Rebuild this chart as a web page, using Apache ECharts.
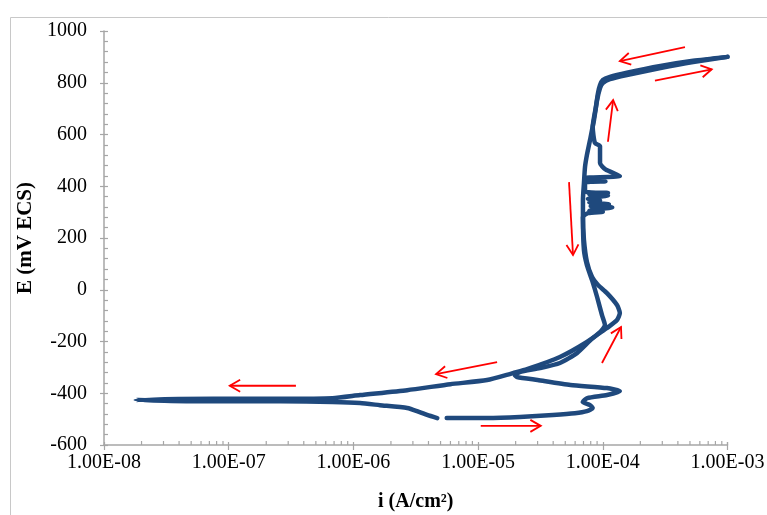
<!DOCTYPE html>
<html>
<head>
<meta charset="utf-8">
<script src="https://cdn.jsdelivr.net/npm/echarts@6/dist/echarts.min.js"></script>
<style>
  html, body { margin: 0; padding: 0; background: #fff; }
  #chart { width: 767px; height: 515px; }
</style>
</head>
<body>
<div id="chart"></div>
<script>
// Axis ticks
const xTicks = [1e-8, 1e-7, 1e-6, 1e-5, 1e-4, 1e-3];
const xTickLabels = ['1.00E-08', '1.00E-07', '1.00E-06', '1.00E-05', '1.00E-04', '1.00E-03'];
const minorSteps = [2, 3, 4, 5, 6, 7, 8, 9];
const yMin = -600, yMax = 1000, yStep = 200;

// Forward scan: current density (A/cm²) and potential (mV ECS)
const forwardI = [5.6e-6, 1.18e-5, 2.16e-5, 3.98e-5, 5.98e-5, 7.46e-5, 8.3e-5, 7.9e-5, 6.9e-5, 7.5e-5,
  1.08e-4, 1.37e-4, 1.08e-4, 5.5e-5, 3.0e-5, 2.05e-5, 1.97e-5, 2.16e-5, 3.13e-5, 4.53e-5,
  6.2e-5, 8.3e-5, 1.08e-4, 1.30e-4, 1.37e-4, 1.30e-4, 1.08e-4, 9.15e-5, 8.2e-5,
  7.46e-5, 7.06e-5, 6.93e-5, 7.6e-5, 1.0e-4, 7.8e-5, 1.19e-4, 8.0e-5, 1.12e-4, 7.8e-5,
  9.5e-5, 7.6e-5, 1.1e-4, 7.8e-5, 1.1e-4, 7.2e-5, 7.2e-5, 1.05e-4, 7.2e-5, 7.2e-5,
  1.37e-4, 1.05e-4, 9.5e-5, 9.5e-5, 8.65e-5, 8.3e-5, 8.8e-5, 9.15e-5, 9.5e-5, 1.0e-4,
  1.14e-4, 1.56e-4, 2.9e-4, 5.3e-4, 1.0e-3];
const forwardE = [-496, -496, -492, -484, -477, -469, -457, -446, -434, -419,
  -407, -392, -380, -368, -349, -337, -330, -318, -303, -283,
  -245, -187, -148, -117, -90, -59, -13, 18, 49,
  107, 192, 281, 296, 301, 306, 318, 323, 330, 337,
  345, 352, 364, 369, 374, 380, 414, 419, 424, 432,
  440, 465, 490, 555, 567, 629, 706, 760, 791, 811,
  823, 839, 865, 885, 900];

// Reverse scan
const reverseI = [1.0e-3, 5.3e-4, 2.9e-4, 1.56e-4, 1.14e-4, 1.0e-4, 9.5e-5, 9.0e-5, 8.5e-5, 7.9e-5,
  7.46e-5, 7.2e-5, 7.06e-5, 6.93e-5, 6.93e-5, 7.06e-5, 7.46e-5, 8.2e-5, 9.0e-5, 9.85e-5,
  1.04e-4, 9.5e-5, 7.46e-5, 4.53e-5, 2.47e-5, 1.9e-5, 1.18e-5, 6.0e-6, 2.7e-6, 1.13e-6,
  6.8e-7, 2.6e-7, 7.5e-8, 1.8e-8, 7.5e-8, 2.6e-7, 6.8e-7, 1.13e-6, 1.63e-6, 2.7e-6,
  3.4e-6, 3.9e-6, 4.7e-6];
const reverseE = [900, 880, 857, 830, 814, 799, 780, 733, 656, 579,
  521, 474, 412, 347, 281, 153, 95, 37, -28, -98,
  -136, -164, -202, -260, -307, -322, -349, -365, -388, -407,
  -419, -421, -421, -426, -431, -431, -434, -438, -446, -457,
  -473, -484, -496];

// Scan-direction arrows: [i start, E start, i end, E end]
const arrowFromI = [4.56e-4, 2.62e-4, 1.10e-4, 5.36e-5, 9.85e-5, 1.42e-5, 3.46e-7, 1.05e-5];
const arrowFromE = [938, 808, 572, 416, -283, -280, -371, -526];
const arrowToI   = [1.37e-4, 7.47e-4, 1.21e-4, 5.77e-5, 1.40e-4, 4.6e-6, 1.02e-7, 3.18e-5];
const arrowToE   = [884, 852, 733, 134, -144, -326, -371, -526];

const zip = (a, b) => a.map((v, k) => [v, b[k]]);
const minorX = [];
xTicks.slice(0, -1).forEach(d => minorSteps.forEach(m => minorX.push(d * m)));
const arrows = arrowFromI.map((v, k) => [v, arrowFromE[k], arrowToI[k], arrowToE[k]]);

const serif = 'Liberation Serif';
const axisGrey = '#a6a6a6';
const curveColor = '#1F497D';

function xLabel(v) {
  const k = xTicks.findIndex(t => Math.abs(Math.log10(t) - Math.log10(v)) < 1e-6);
  return k >= 0 ? xTickLabels[k] : '';
}

const chart = echarts.init(document.getElementById('chart'));
chart.setOption({
  animation: false,
  backgroundColor: '#fff',
  grid: { left: 104, right: 39.5, top: 31, bottom: 70, containLabel: false, outerBoundsMode: 'none' },
  graphic: [{
    type: 'polyline',
    shape: { points: [[10.5, 515], [10.5, 17.5], [767, 17.5]] },
    style: { stroke: '#c8c8c8', lineWidth: 1, fill: null },
    silent: true
  }],
  xAxis: [{
    type: 'log', logBase: 10, min: 1e-8, max: 1e-3,
    axisLine: { onZero: false, lineStyle: { color: axisGrey, width: 1.5 } },
    axisTick: { inside: false, length: 5, lineStyle: { color: axisGrey, width: 1.2 } },
    axisLabel: { formatter: xLabel, fontFamily: serif, fontSize: 20, color: '#000', margin: 8 },
    splitLine: { show: false },
    name: 'i (A/cm²)', nameLocation: 'middle', nameGap: 47,
    nameTextStyle: { fontFamily: serif, fontSize: 20, fontWeight: 'bold', color: '#000' }
  }, {
    type: 'log', logBase: 10, min: 1e-8, max: 1e-3, position: 'bottom',
    axisLine: { show: false, onZero: false },
    axisTick: { inside: true, length: 3, lineStyle: { color: axisGrey, width: 1.2 } },
    axisLabel: { show: false },
    splitLine: { show: false }
  }],
  yAxis: [{
    type: 'value', min: yMin, max: yMax, interval: yStep,
    axisLine: { show: true, onZero: false, lineStyle: { color: axisGrey, width: 1.5 } },
    axisTick: { show: true, inside: true, length: 4, lineStyle: { color: axisGrey, width: 1.2 } },
    minorTick: { show: true, splitNumber: 5, length: 4, lineStyle: { color: axisGrey, width: 1.2 } },
    axisLabel: { formatter: v => String(v), fontFamily: serif, fontSize: 20, color: '#000', margin: 17 },
    splitLine: { show: false },
    name: 'E (mV ECS)', nameLocation: 'middle', nameGap: 63, nameRotate: 90,
    nameTextStyle: { fontFamily: serif, fontSize: 21, fontWeight: 'bold', color: '#000' }
  }, {
    type: 'value', min: yMin, max: yMax, interval: yStep, position: 'left',
    axisLine: { show: false, onZero: false },
    axisTick: { show: true, inside: false, length: 4, lineStyle: { color: axisGrey, width: 1.2 } },
    axisLabel: { show: false },
    splitLine: { show: false }
  }],
  series: [{
    name: 'minor ticks',
    type: 'custom',
    silent: true,
    z: 1,
    data: minorX.map(v => [v, yMin]),
    renderItem: (params, api) => {
      const p = api.coord([api.value(0), api.value(1)]);
      return {
        type: 'line',
        shape: { x1: p[0], y1: p[1], x2: p[0], y2: p[1] - 4 },
        style: { stroke: axisGrey, lineWidth: 1.2 }
      };
    }
  }, {
    name: 'forward',
    type: 'line',
    data: zip(forwardI, forwardE),
    showSymbol: false,
    clip: false,
    smooth: 0.2,
    lineStyle: { color: curveColor, width: 4.5, join: 'round', cap: 'round' },
    z: 3
  }, {
    name: 'reverse',
    type: 'line',
    data: zip(reverseI, reverseE),
    showSymbol: false,
    clip: false,
    smooth: 0.2,
    lineStyle: { color: curveColor, width: 4.5, join: 'round', cap: 'round' },
    z: 3
  }, {
    name: 'direction',
    type: 'custom',
    silent: true,
    z: 4,
    encode: { x: [0, 2], y: [1, 3] },
    data: arrows,
    renderItem: (params, api) => {
      const a = api.coord([api.value(0), api.value(1)]);
      const b = api.coord([api.value(2), api.value(3)]);
      const ang = Math.atan2(b[1] - a[1], b[0] - a[0]);
      const L = 12, th = Math.PI / 6;
      const h1 = [b[0] - L * Math.cos(ang - th), b[1] - L * Math.sin(ang - th)];
      const h2 = [b[0] - L * Math.cos(ang + th), b[1] - L * Math.sin(ang + th)];
      const st = { stroke: '#ff0000', lineWidth: 1.8, fill: null };
      return {
        type: 'group',
        children: [
          { type: 'line', shape: { x1: a[0], y1: a[1], x2: b[0], y2: b[1] }, style: st },
          { type: 'polyline', shape: { points: [h1, b, h2] }, style: st }
        ]
      };
    }
  }]
});
</script>
</body>
</html>
